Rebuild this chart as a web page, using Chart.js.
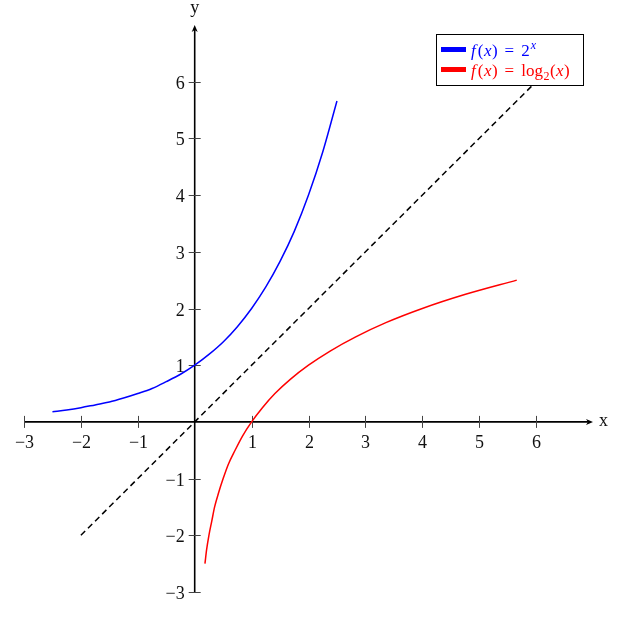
<!DOCTYPE html>
<html>
<head>
<meta charset="utf-8">
<script src="https://cdn.jsdelivr.net/npm/chart.js@4"></script>
<style>
html,body{margin:0;padding:0;background:#fff}
canvas{display:block}
</style>
</head>
<body>
<canvas id="plot" width="617" height="617"></canvas>
<script>
// values
const blueX=[-2.5,-2.25,-2,-1.75,-1.5,-1.25,-1,-0.75,-0.5,-0.25,0,0.25,0.5,0.75,1,1.25,1.5,1.75,2,2.25,2.5]
const blueY=[0.18,0.21,0.25,0.30,0.35,0.42,0.5,0.59,0.71,0.84,1,1.19,1.41,1.68,2,2.38,2.83,3.36,4,4.76,5.66]
const redX=[0.18,0.21,0.25,0.30,0.35,0.42,0.5,0.59,0.71,0.84,1,1.19,1.41,1.68,2,2.38,2.83,3.36,4,4.76,5.66]
const redY=[-2.5,-2.25,-2,-1.75,-1.5,-1.25,-1,-0.75,-0.5,-0.25,0,0.25,0.5,0.75,1,1.25,1.5,1.75,2,2.25,2.5]
const diagX=[-2,6]
const diagY=[-2,6]
const xTicks=[-3,-2,-1,1,2,3,4,5,6]
const yTicks=[-3,-2,-1,1,2,3,4,5,6]

const pts=(xs,ys)=>xs.map((x,i)=>({x:x,y:ys[i]}))

const serif="'Liberation Serif','DejaVu Serif',serif"

function arrow(c,x,y,dx,dy){
c.save()
c.translate(x,y)
c.rotate(Math.atan2(dy,dx))
c.beginPath()
c.moveTo(0,0)
c.lineTo(-7,-3)
c.lineTo(-5,0)
c.lineTo(-7,3)
c.closePath()
c.fill()
c.restore()
}

// draw a run of [text, font, dy, gap] pieces
function runText(c,parts,x,y){
parts.forEach(p=>{
const t=p[0], f=p[1], dy=p[2]||0, gap=p[3]||0
c.font=f
c.fillText(t,x,y+dy)
x+=c.measureText(t).width+gap
})
return x
}

const axesPlugin={
id:"axes",
beforeDatasetsDraw(chart){
const c=chart.ctx
const sx=chart.scales.x, sy=chart.scales.y
const x0=sx.getPixelForValue(0), y0=sy.getPixelForValue(0)
c.save()
c.strokeStyle="#000"
c.fillStyle="#000"
c.lineWidth=1.6
c.beginPath()
c.moveTo(sx.getPixelForValue(-3),y0)
c.lineTo(sx.getPixelForValue(7)-3,y0)
c.moveTo(x0,sy.getPixelForValue(-3))
c.lineTo(x0,sy.getPixelForValue(7)+3)
c.stroke()
arrow(c,sx.getPixelForValue(7),y0,1,0)
arrow(c,x0,sy.getPixelForValue(7),0,-1)

c.lineWidth=1
c.strokeStyle="#444"
c.fillStyle="#111"
c.font="18px "+serif
c.textAlign="center"
c.textBaseline="alphabetic"
xTicks.forEach(t=>{
const p=Math.round(sx.getPixelForValue(t))+0.5
c.beginPath()
c.moveTo(p,y0-6)
c.lineTo(p,y0+6)
c.stroke()
c.fillText(t<0?"\u2212"+(-t):String(t),p,y0+26)
})
c.textAlign="right"
yTicks.forEach(t=>{
const p=Math.round(sy.getPixelForValue(t))+0.5
c.beginPath()
c.moveTo(x0-6,p)
c.lineTo(x0+6,p)
c.stroke()
c.fillText(t<0?"\u2212"+(-t):String(t),x0-10,p+6)
})
c.textAlign="left"
c.fillText("x",sx.getPixelForValue(7)+6,y0+4)
c.textAlign="center"
c.fillText("y",x0,sy.getPixelForValue(7)-12)
c.restore()
},
afterDatasetsDraw(chart){
// legend box
const c=chart.ctx
c.save()
c.fillStyle="#fff"
c.fillRect(436,34,147,51)
c.strokeStyle="#000"
c.lineWidth=1
c.strokeRect(436.5,34.5,147,51)
c.fillStyle="#0000ff"
c.fillRect(441,47,25,5)
c.fillStyle="#ff0000"
c.fillRect(441,67,25,5)
c.textBaseline="alphabetic"
c.textAlign="left"
const it="italic 17px "+serif, rm="17px "+serif
c.fillStyle="#0000ff"
runText(c,[["f",it,0,2],["(",rm,0,0.5],["x",it,0,0.5],[")",rm,0,7],["=",rm,0,7],["2",rm,0,1],["x","italic 12px "+serif,-7]],471,56)
c.fillStyle="#ff0000"
runText(c,[["f",it,0,2],["(",rm,0,0.5],["x",it,0,0.5],[")",rm,0,7],["=",rm,0,7],["log",rm,0,0.5],["2","12px "+serif,4,0.5],["(",rm,0,0.5],["x",it,0,0.5],[")",rm]],471,76)
c.restore()
}
}

const chart=new Chart(document.getElementById("plot"),{
type:"scatter",
data:{
datasets:[
{
label:"2^x",
data:pts(blueX,blueY),
showLine:true,
borderColor:"#0000ff",
borderWidth:1.5,
pointRadius:0,
cubicInterpolationMode:"monotone"
},
{
label:"log2",
data:pts(redX,redY),
showLine:true,
borderColor:"#ff0000",
borderWidth:1.5,
pointRadius:0,
cubicInterpolationMode:"monotone"
},
{
label:"y=x",
data:pts(diagX,diagY),
showLine:true,
borderColor:"#000",
borderWidth:1.5,
borderDash:[6,4],
pointRadius:0
}
]
},
options:{
responsive:false,
animation:false,
layout:{padding:{left:24,right:24,top:25,bottom:25}},
plugins:{legend:{display:false},tooltip:{enabled:false}},
scales:{
x:{type:"linear",min:-3,max:7,display:false},
y:{type:"linear",min:-3,max:7,display:false}
}
},
plugins:[axesPlugin]
})
</script>
</body>
</html>
